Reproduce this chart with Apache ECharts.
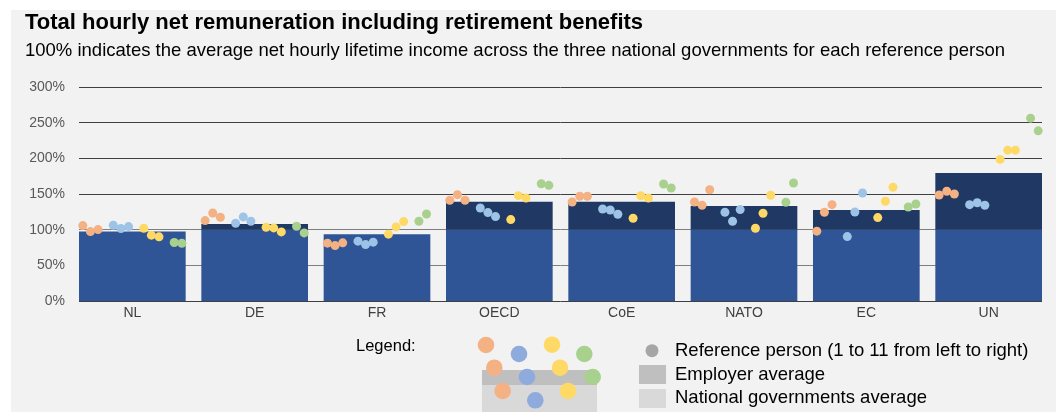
<!DOCTYPE html>
<html>
<head>
<meta charset="utf-8">
<script src="https://cdn.jsdelivr.net/npm/echarts@6/dist/echarts.min.js"></script>
<style>
html,body{margin:0;padding:0;background:#ffffff;}
#chart{width:1056px;height:412px;}
</style>
</head>
<body>
<div id="chart"></div>
<script>
// ---- data ----
var categories = ['NL', 'DE', 'FR', 'OECD', 'CoE', 'NATO', 'EC', 'UN'];
var yTicks = [0, 50, 100, 150, 200, 250, 300];
var employerAvg = [97.3, 108.1, 93.6, 139.3, 139.3, 133.2, 127.6, 179.4];
var nationalAvg = 100;
// reference persons 1..11 for each employer (percent)
var personsNL   = [105.7, 97.3, 100.1, 106.2, 101.5, 104.3, 102.0, 92.3, 89.9, 82.0, 81.0];
var personsDE   = [112.7, 123.4, 117.4, 109.0, 117.9, 111.8, 103.4, 102.5, 96.9, 104.8, 95.5];
var personsFR   = [81.1, 77.7, 81.5, 83.9, 79.1, 82.5, 93.7, 103.9, 111.3, 111.8, 122.0];
var personsOECD = [141.2, 149.1, 141.2, 130.4, 123.9, 118.3, 114.1, 147.7, 144.4, 164.4, 162.1];
var personsCoE  = [138.8, 146.8, 146.8, 129.0, 127.6, 121.6, 116.0, 147.6, 144.4, 164.0, 158.4];
var personsNATO = [138.8, 134.2, 156.0, 124.4, 111.8, 128.1, 102.0, 123.0, 148.2, 138.4, 165.4];
var personsEC   = [97.9, 124.4, 135.1, 90.3, 124.8, 151.4, 116.9, 139.8, 159.4, 131.8, 136.0];
var personsUN   = [148.6, 153.8, 150.0, 135.1, 137.8, 134.2, 198.5, 211.5, 211.5, 256.3, 238.5];
var personGroups = [[0, 1, 2], [3, 4, 5], [6, 7, 8], [9, 10]];

var allPersons = [personsNL, personsDE, personsFR, personsOECD, personsCoE, personsNATO, personsEC, personsUN];

// ---- layout ----
var W = 1056, H = 412;
var plotLeft = 79, plotRight = 1042, plotTop = 87, plotBottom = 301;
var gapFrac = 0.128;
var pitch = (plotRight - plotLeft) / (categories.length - gapFrac);
var halfGap = pitch * gapFrac / 2;
var barFrac = 1 - gapFrac;
var dotColors = ['#F4B183', '#9DC3E6', '#FFD966', '#A9D18E'];

var lowerBars = employerAvg.map(function (v) { return Math.min(v, nationalAvg); });
var upperBars = employerAvg.map(function (v) { return Math.max(v - nationalAvg, 0); });

function offsetFor(p) {
  var g = Math.floor(p / 3);
  var k = p + g; // 14 slots, gaps after each group of 3
  return ((k + 0.5) / 14 - 0.5) * barFrac;
}

var scatterSeries = personGroups.map(function (grp, gi) {
  var data = [];
  allPersons.forEach(function (arr, ci) {
    grp.forEach(function (p) {
      data.push([ci + offsetFor(p), arr[p]]);
    });
  });
  return {
    type: 'scatter', xAxisIndex: 2, yAxisIndex: 1, data: data,
    symbol: 'circle', symbolSize: 9, z: 5,
    itemStyle: { color: dotColors[gi], opacity: 1 },
    silent: true
  };
});

var chart = echarts.init(document.getElementById('chart'), null, { renderer: 'canvas' });
var fontFam = '"Liberation Sans", Arial, sans-serif';

var option = {
  animation: false,
  backgroundColor: '#ffffff',
  title: [
    { text: 'Total hourly net remuneration including retirement benefits', left: 25, top: 12, padding: 0,
      textStyle: { fontFamily: fontFam, fontSize: 22, fontWeight: 'bold', color: '#000' } },
    { text: '100% indicates the average net hourly lifetime income across the three national governments for each reference person',
      left: 25, top: 41, padding: 0, textStyle: { fontFamily: fontFam, fontSize: 18.5, fontWeight: 'normal', color: '#000' } }
  ],
  grid: [
    { left: plotLeft, right: W - plotRight, top: plotTop, bottom: H - plotBottom },
    { left: plotLeft - halfGap, right: W - plotRight - halfGap, top: plotTop, bottom: H - plotBottom }
  ],
  xAxis: [
    { type: 'value', gridIndex: 0, min: 0, max: 1, show: false },
    { type: 'category', gridIndex: 1, data: categories, boundaryGap: true,
      axisLine: { show: false }, axisTick: { show: false },
      axisLabel: { color: '#404040', fontFamily: fontFam, fontSize: 14, margin: 5 } },
    { type: 'value', gridIndex: 1, min: -0.5, max: categories.length - 0.5, show: false }
  ],
  yAxis: [
    { type: 'value', gridIndex: 0, min: yTicks[0], max: yTicks[yTicks.length - 1], interval: yTicks[1] - yTicks[0],
      axisLine: { show: false }, axisTick: { show: false },
      axisLabel: { formatter: '{value}%', color: '#595959', fontFamily: fontFam, fontSize: 14, margin: 14 },
      splitLine: { show: true, lineStyle: { color: ['#404040', '#7f7f7f', '#7f7f7f', '#404040', '#404040', '#404040', '#404040'], width: 1 } } },
    { type: 'value', gridIndex: 1, min: yTicks[0], max: yTicks[yTicks.length - 1], show: false }
  ],
  series: [
    { type: 'bar', xAxisIndex: 1, yAxisIndex: 1, stack: 'emp', data: lowerBars,
      barCategoryGap: (gapFrac * 100) + '%', itemStyle: { color: '#2F5597' }, silent: true, z: 2 },
    { type: 'bar', xAxisIndex: 1, yAxisIndex: 1, stack: 'emp', data: upperBars,
      barCategoryGap: (gapFrac * 100) + '%', itemStyle: { color: '#1F3864' }, silent: true, z: 2 }
  ].concat(scatterSeries),
  graphic: [
    { type: 'rect', left: 11, top: 10, z: -100, silent: true,
      shape: { width: W - 11, height: H - 10 }, style: { fill: '#F2F2F2' } },
    // legend label
    { type: 'text', left: 356, top: 338, style: { text: 'Legend:', font: '16.5px ' + fontFam, fill: '#000' } },
    // illustration
    { type: 'rect', left: 482, top: 370, shape: { width: 115, height: 15 }, style: { fill: '#BFBFBF' } },
    { type: 'rect', left: 482, top: 385, shape: { width: 115, height: 30 }, style: { fill: '#D9D9D9' } },
    { type: 'circle', shape: { cx: 486, cy: 345, r: 8.3 }, style: { fill: '#F4B183' }, z: 10 },
    { type: 'circle', shape: { cx: 494.3, cy: 367.7, r: 8.3 }, style: { fill: '#F4B183' }, z: 10 },
    { type: 'circle', shape: { cx: 502.7, cy: 391, r: 8.3 }, style: { fill: '#F4B183' }, z: 10 },
    { type: 'circle', shape: { cx: 519, cy: 354, r: 8.3 }, style: { fill: '#8FAADC' }, z: 10 },
    { type: 'circle', shape: { cx: 527, cy: 377, r: 8.3 }, style: { fill: '#8FAADC' }, z: 10 },
    { type: 'circle', shape: { cx: 535.3, cy: 400.3, r: 8.3 }, style: { fill: '#8FAADC' }, z: 10 },
    { type: 'circle', shape: { cx: 552, cy: 344.7, r: 8.3 }, style: { fill: '#FFD966' }, z: 10 },
    { type: 'circle', shape: { cx: 560, cy: 367.7, r: 8.3 }, style: { fill: '#FFD966' }, z: 10 },
    { type: 'circle', shape: { cx: 568, cy: 391, r: 8.3 }, style: { fill: '#FFD966' }, z: 10 },
    { type: 'circle', shape: { cx: 584.3, cy: 354, r: 8.3 }, style: { fill: '#A9D18E' }, z: 10 },
    { type: 'circle', shape: { cx: 592.7, cy: 377, r: 8.3 }, style: { fill: '#A9D18E' }, z: 10 },
    // key
    { type: 'circle', shape: { cx: 652, cy: 350.7, r: 6.5 }, style: { fill: '#A6A6A6' } },
    { type: 'rect', left: 639, top: 365, shape: { width: 27, height: 19 }, style: { fill: '#BFBFBF' } },
    { type: 'rect', left: 639, top: 389, shape: { width: 27, height: 19 }, style: { fill: '#D9D9D9' } },
    { type: 'text', left: 675, top: 341, style: { text: 'Reference person (1 to 11 from left to right)', font: '18.5px ' + fontFam, fill: '#000' } },
    { type: 'text', left: 675, top: 365, style: { text: 'Employer average', font: '18.5px ' + fontFam, fill: '#000' } },
    { type: 'text', left: 675, top: 388, style: { text: 'National governments average', font: '18.5px ' + fontFam, fill: '#000' } }
  ]
};
chart.setOption(option);
</script>
</body>
</html>
